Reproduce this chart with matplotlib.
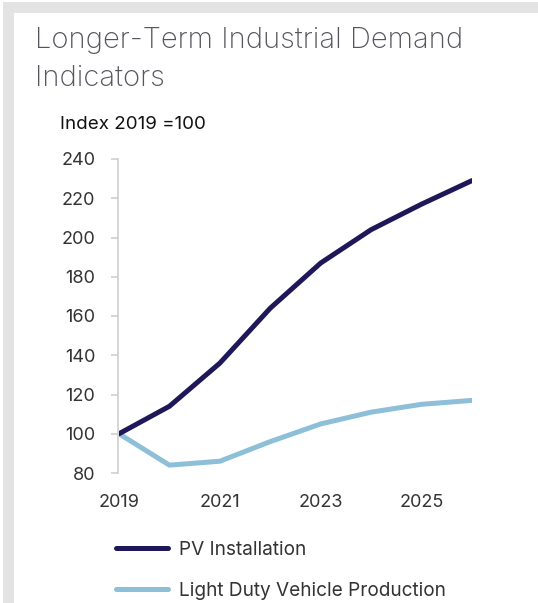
import matplotlib
matplotlib.use("Agg")
import matplotlib.pyplot as plt
from matplotlib.patches import Rectangle

years = [2019, 2020, 2021, 2022, 2023, 2024, 2025, 2026]
pv_installation = [100, 114, 136, 164, 187, 204, 217, 229]
ldv_production = [100, 84, 86, 96, 105, 111, 115, 117]
series_names = ["PV Installation", "Light Duty Vehicle Production"]
x_ticks = [2019, 2021, 2023, 2025]
y_ticks = [80, 100, 120, 140, 160, 180, 200, 220, 240]

W, H = 538, 603
FAM = ["Inter", "DejaVu Sans"]
fig = plt.figure(figsize=(W / 100, H / 100), dpi=100)
fig.patch.set_facecolor("white")

# panel shadow / border
fig.patches.append(Rectangle((3 / W, 0), 11 / W, 1 - 2 / H, transform=fig.transFigure,
                             facecolor="#e3e3e3", edgecolor="none", zorder=0))
fig.patches.append(Rectangle((3 / W, 1 - 13 / H), 1, 11 / H, transform=fig.transFigure,
                             facecolor="#e3e3e3", edgecolor="none", zorder=0))

ax = fig.add_axes([119 / W, 1 - 473 / H, (472 - 119) / W, (473 - 159) / H])
ax.plot(years, pv_installation, color="#1e1858", lw=3.6, solid_capstyle="round",
        solid_joinstyle="round", label=series_names[0], zorder=3)
ax.plot(years, ldv_production, color="#8dbfd8", lw=3.6, solid_capstyle="round",
        solid_joinstyle="round", label=series_names[1], zorder=2)

ax.set_xlim(2019, 2026)
ax.set_ylim(80, 240)
ax.set_xticks(x_ticks)
ax.set_yticks(y_ticks)
for s in ["top", "right", "bottom"]:
    ax.spines[s].set_visible(False)
ax.spines["left"].set_color("#cfcfcf")
ax.spines["left"].set_linewidth(1.2)
ax.spines["left"].set_position(("outward", 1))
ax.tick_params(axis="y", length=5, width=1.2, color="#cfcfcf", pad=11,
               labelsize=13, labelcolor="#333333")
ax.tick_params(axis="x", length=0, pad=15, labelsize=13, labelcolor="#333333")
for lab in ax.get_xticklabels() + ax.get_yticklabels():
    lab.set_family(FAM)
ax.set_facecolor("none")

fig.text(35 / W, 1 - 48 / H, "Longer-Term Industrial Demand", fontsize=21,
         family=FAM, weight="light", color="#55555f", va="baseline")
fig.text(35 / W, 1 - 86 / H, "Indicators", fontsize=21,
         family=FAM, weight="light", color="#55555f", va="baseline")
fig.text(60 / W, 1 - 129 / H, "Index 2019 =100", fontsize=13.5,
         family=FAM, color="#111111", va="baseline")

leg = fig.legend(loc="upper left", bbox_to_anchor=(108 / W, 1 - 533 / H), frameon=False,
                 borderaxespad=0, prop={"family": FAM, "size": 13.7},
                 handlelength=2.75, handletextpad=0.6, labelspacing=1.22,
                 labelcolor="#333333")

fig.savefig("out.png", dpi=100)
